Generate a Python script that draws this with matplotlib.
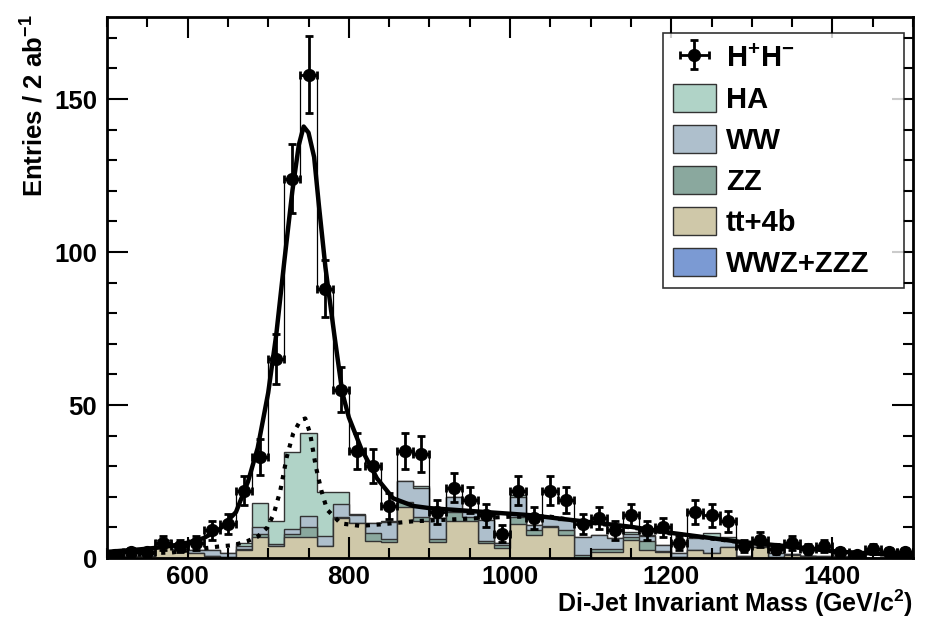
import numpy as np
import matplotlib
matplotlib.use("Agg")
import matplotlib.pyplot as plt
import matplotlib.patches as mpatches
from matplotlib.ticker import MultipleLocator, FixedLocator

plt.rcParams['font.family'] = ['Liberation Sans', 'DejaVu Sans']
plt.rcParams['font.weight'] = 'bold'
plt.rcParams['mathtext.fontset'] = 'custom'
plt.rcParams['mathtext.rm'] = 'Liberation Sans:bold'
plt.rcParams['mathtext.it'] = 'Liberation Sans:bold'
plt.rcParams['mathtext.bf'] = 'Liberation Sans:bold'
plt.rcParams['mathtext.default'] = 'rm'

# bin edges: 500 .. 1500 GeV in 20 GeV steps
edges = np.arange(500, 1501, 20)
centers = edges[:-1] + 10

# H+H- events per bin
data = [1, 2, 2, 5, 4, 5, 9, 11, 22, 33,
        65, 124, 158, 88, 55, 35, 30, 17, 35, 34,
        15, 23, 19, 14, 8, 22, 13, 22, 19, 11,
        13, 9, 14, 9, 10, 5, 15, 14, 12, 4,
        6, 3, 5, 3, 4, 2, 1, 3, 2, 2]

# stacked backgrounds (bottom to top: WWZ+ZZZ, tt+4b, ZZ, WW, HA)
wwz = [0] * 50
tt4b = [0.5, 0.5, 0.5, 4, 3, 1.5, 0.5, 0.3, 2.6, 7,
        4, 7, 7, 4, 13, 11.5, 5.4, 5.3, 16.8, 12,
        5.3, 12, 12, 5, 3.2, 11, 7.5, 10.1, 7.5, 0,
        2, 2, 6, 2.6, 2, 0.3, 2.6, 1.5, 3.7, 0,
        3.5, 0.2, 1, 0.5, 0.3, 0.3, 0, 0, 0, 0]
zz = [0, 0, 0, 0.5, 0, 0, 0, 0, 0.5, 1,
      0, 1, 3, 0, 0.5, 0, 2.7, 1, 1.6, 1.5,
      1, 3, 1.5, 0.5, 1, 2.5, 1.5, 0.3, 1.5, 1,
      1, 1, 1, 3, 0.3, 0, 0, 0, 0, 0,
      0, 0, 0, 0, 0, 0, 0, 0, 0, 0]
ww = [0, 0, 1, 1.4, 1.2, 1, 2, 1.2, 0.8, 2,
      0.5, 1.5, 3.7, 3.3, 4, 2.5, 3.2, 5.5, 6.9, 9.5,
      6.7, 5, 1.6, 6.9, 0.6, 6.5, 1.8, 3.1, 3.4, 6,
      4.5, 3.4, 1, 1.5, 2, 1.4, 3.8, 5.5, 2.5, 0.8,
      0.2, 1.5, 0.3, 0.2, 0.2, 0.2, 0, 0, 0, 0]
ha = [0, 0, 0, 0, 0, 0, 0, 0, 1, 8,
      7.5, 25, 27, 14.4, 4.2, 0.5, 0, 0.2, 0, 0.5,
      0, 0, 0, 0, 0, 0.5, 0, 0, 0, 0,
      0, 0, 0.6, 0.5, 0, 0, 0, 1.3, 0.6, 0,
      0, 0, 0, 0, 0, 0, 0, 0, 0, 0]

# fit curves
fit_x = [500, 540, 560, 580, 600, 620, 640, 660, 675, 687, 700, 710, 720, 730,
         738, 744, 750, 757, 763, 771, 782, 792, 800, 815, 835, 855, 880, 900,
         960, 1025, 1090, 1150, 1200, 1285, 1350, 1410, 1500]
fit_y = [2, 2.8, 3.3, 4, 5, 6.5, 9.5, 15, 25, 36, 54, 73, 97, 120,
         135, 141, 139, 131, 115, 95, 73, 54, 46, 36, 26, 19.5, 17, 16.3,
         15.2, 14, 12, 10.2, 8.2, 5.3, 3.7, 2, 0.8]
bkg_x = [500, 540, 580, 604, 637, 657, 674, 687, 699, 707, 715, 723, 731, 740,
         746, 752, 759, 766, 773, 790, 814, 840, 880, 920, 960, 1000, 1050,
         1090, 1150, 1200, 1285, 1350, 1410, 1500]
bkg_y = [1.5, 1.5, 1.8, 2.6, 3.7, 4.2, 5.5, 7, 10, 14.5, 22, 33, 40.7, 45,
         45.6, 40.7, 30, 22, 15.8, 11.3, 10.5, 11, 12, 12.5, 13, 13.5, 13.5,
         11.8, 10, 8, 5.2, 3.6, 1.9, 0.7]

colors = {"HA": "#b0d3c7", "WW": "#aebfcc", "ZZ": "#8aa89e",
          "tt+4b": "#cfc8a9", "WWZ+ZZZ": "#7b9ad3"}

fig = plt.figure(figsize=(9.31, 6.17), dpi=100)
ax = fig.add_axes([107 / 931, 59 / 617, 806 / 931, 541 / 617])

# cumulative stack, drawn from the top layer down
layers = [("WWZ+ZZZ", wwz), ("tt+4b", tt4b), ("ZZ", zz), ("WW", ww), ("HA", ha)]
cum = np.zeros(50)
cums = []
for name, vals in layers:
    cum = cum + np.array(vals, dtype=float)
    cums.append((name, cum.copy()))
for name, c in reversed(cums):
    ax.stairs(c, edges, fill=True, facecolor=colors[name],
              edgecolor="#333333", linewidth=1.0, zorder=1)

# data outline histogram
ax.stairs(data, edges, color="black", linewidth=0.9, zorder=2)

# fits
ax.plot(fit_x, fit_y, color="black", linewidth=3.2, zorder=3)
ax.plot(bkg_x, bkg_y, color="black", linewidth=3.0, linestyle=(0, (1, 1.6)), zorder=3)

# data points
data = np.array(data)
eb = ax.errorbar(centers, data, yerr=np.sqrt(data), xerr=10, fmt="o",
                 color="black", markersize=8.5, elinewidth=2, capsize=3,
                 capthick=2, zorder=4, label="H$^{+}$H$^{-}$")

ax.set_xlim(500, 1500)
ax.set_ylim(0, 176.8)
ax.xaxis.set_major_locator(FixedLocator([600, 800, 1000, 1200, 1400]))
ax.xaxis.set_minor_locator(MultipleLocator(50))
ax.yaxis.set_major_locator(MultipleLocator(50))
ax.yaxis.set_minor_locator(MultipleLocator(10))
ax.tick_params(which="both", direction="in", top=True, right=True, width=1.5)
ax.tick_params(which="major", length=15, labelsize=18.5)
ax.tick_params(axis="x", which="major", pad=5)
ax.tick_params(axis="y", which="major", pad=7)
ax.tick_params(which="minor", length=7)
for s in ax.spines.values():
    s.set_linewidth(2)

ax.set_xlabel("Di-Jet Invariant Mass (GeV/c$^{2}$)", fontsize=18,
              fontweight="bold", loc="right")
ax.xaxis.set_label_coords(1.0, -0.083)
ax.xaxis.label.set_va("center")
ax.set_ylabel("Entries / 2 ab$^{-1}$", fontsize=18.5, fontweight="bold",
              loc="top")
ax.yaxis.set_label_coords(-0.073, 1.004)

handles = [eb] + [mpatches.Patch(facecolor=colors[n], edgecolor="#333333", label=n)
                  for n in ["HA", "WW", "ZZ", "tt+4b", "WWZ+ZZZ"]]
leg = ax.legend(handles=handles, loc="upper left",
                bbox_to_anchor=(0.69, 0.475, 0.299, 0.496), mode="expand",
                fontsize=21, frameon=True, fancybox=False, edgecolor="black",
                handlelength=1.45, handleheight=1.1, labelspacing=0.38,
                borderaxespad=0, handletextpad=0.35, borderpad=0.35)
leg.get_frame().set_linewidth(1.2)

fig.savefig("out.png", dpi=100)
